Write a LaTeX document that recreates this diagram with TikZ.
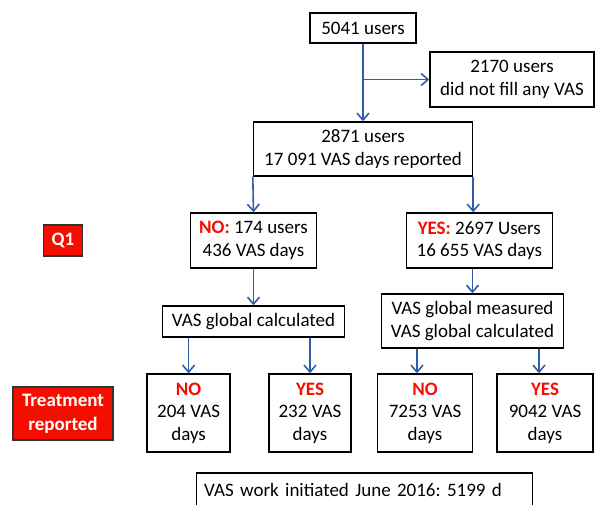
\documentclass[tikz,border=0pt]{standalone}
\usepackage{fontspec}
\setmainfont{Carlito}
\usetikzlibrary{arrows.meta}
\definecolor{flowblue}{RGB}{46,94,168}
\definecolor{flagred}{RGB}{245,14,0}
\newcommand{\redword}[1]{\textcolor{flagred}{\bfseries #1}}
\frenchspacing

\begin{document}
\begin{tikzpicture}[x=1pt,y=-1pt,>={Straight Barb[length=7pt,width=12pt]},
    font=\fontsize{19}{22.5}\selectfont,
    box/.style={draw=black,line width=1.4pt,align=center,inner sep=0pt},
    flow/.style={->,draw=flowblue,line width=1.6pt},
    tag/.style={draw=black!80,line width=1.4pt,fill=flagred,text=white,
        font=\fontsize{19}{24}\selectfont\bfseries,align=center,inner sep=0pt}]
    \useasboundingbox (0,0) rectangle (595,504);
    \clip (0,0) rectangle (595,504);
    \node [box,minimum width=106pt,minimum height=30pt] (users) at (363,28) {5041 users};
    \node [box,minimum width=164pt,minimum height=55pt] (nofill) at (512,79.5)
        {2170 users\\did not fill any VAS};
    \node [box,minimum width=219pt,minimum height=54pt] (total) at (363,149)
        {2871 users\\17 091 VAS days reported};
    \node [box,minimum width=126pt,minimum height=55pt] (no) at (253.5,240.5)
        {\redword{NO:} 174 users\\436 VAS days};
    \node [box,minimum width=146pt,minimum height=55pt] (yes) at (479.3,240.5)
        {\redword{YES:} 2697 Users\\16 655 VAS days};
    \node [box,minimum width=182pt,minimum height=31pt] (calc) at (253.5,321.5)
        {VAS global calculated};
    \node [box,minimum width=182pt,minimum height=54pt] (meas) at (472.5,321)
        {VAS global measured\\VAS global calculated};
    \node [tag,minimum width=39pt,minimum height=31pt] (q1) at (63,240.5) {Q1};
    \node [tag,minimum width=100pt,minimum height=53pt] (treat) at (63,413.5)
        {Treatment\\reported};
    \node [box,minimum width=83pt,minimum height=78pt] (t1) at (188.6,413)
        {\redword{NO}\\204 VAS\\days};
    \node [box,minimum width=82pt,minimum height=78pt] (t2) at (310,413)
        {\redword{YES}\\232 VAS\\days};
    \node [box,minimum width=95pt,minimum height=78pt] (t3) at (425,413)
        {\redword{NO}\\7253 VAS\\days};
    \node [box,minimum width=96pt,minimum height=78pt] (t4) at (545,413)
        {\redword{YES}\\9042 VAS\\days};
    \node [box,anchor=west,align=left,text width=320pt,inner xsep=8pt,
        minimum height=34pt] (work) at (195.5,490) {VAS work initiated June 2016: 5199 d};
    \coordinate (split) at (users.south |- nofill.west);
    \coordinate (t3in) at ([xshift=-8pt]t3.north);
    \coordinate (t4in) at ([xshift=-6pt]t4.north);
    \draw [flow] (users) -- (total);
    \draw [flow] (split) -- (nofill.west);
    \draw [flow] (total.south west) -- (no.north);
    \draw [flow] (total.south east) -- (total.south east |- yes.north);
    \draw [flow] (no) -- (calc);
    \draw [flow] (meas.north |- yes.south) -- (meas.north);
    \draw [flow] (t1.north |- calc.south) -- (t1.north);
    \draw [flow] (t2.north |- calc.south) -- (t2.north);
    \draw [flow] (t3in |- meas.south) -- (t3in);
    \draw [flow] (t4in |- meas.south) -- (t4in);
\end{tikzpicture}
\end{document}
